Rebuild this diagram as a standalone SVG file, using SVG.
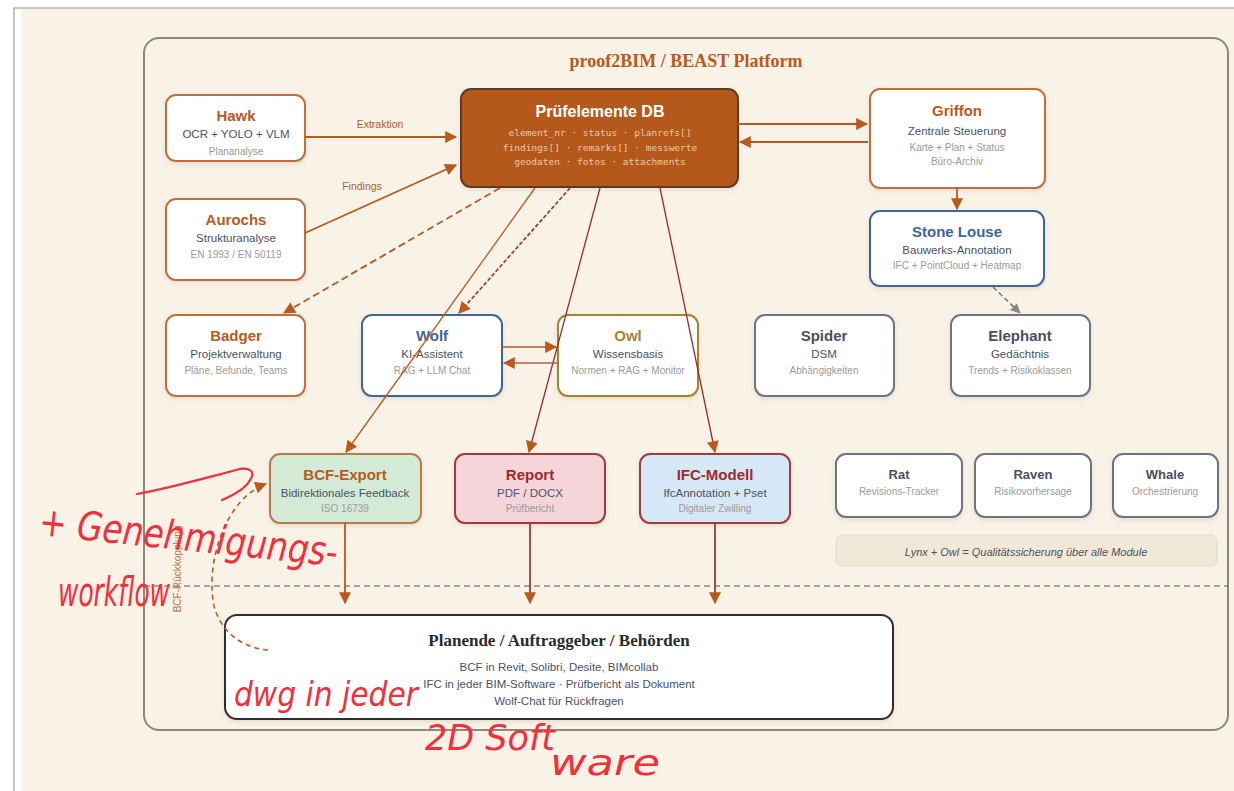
<svg xmlns="http://www.w3.org/2000/svg" width="1234" height="791" viewBox="0 0 1234 791">
<defs>
<style>
.sans{font-family:"Liberation Sans",Arial,sans-serif}
.t{font-family:"Liberation Sans",Arial,sans-serif;font-weight:bold;text-anchor:middle}
.s{font-family:"Liberation Sans",Arial,sans-serif;font-size:11.5px;fill:#4a5263;text-anchor:middle}
.g{font-family:"Liberation Sans",Arial,sans-serif;font-size:10px;fill:#9a9a9a;text-anchor:middle}
.m{font-family:"DejaVu Sans Mono","Liberation Mono",monospace;font-size:9.5px;fill:#f0c8a6;text-anchor:middle}
.box{fill:#fff;stroke-width:2;filter:url(#sh)}
.or{stroke:#c0703a}
.bl{stroke:#3f6598}
.ol{stroke:#a4842f}
.gr{stroke:#6d7482}
.hand{font-family:"DejaVu Sans","Liberation Sans",sans-serif;fill:#f2303c;font-style:italic}
.c{fill:none;stroke-width:1.8}
</style>
<filter id="sh" x="-10%" y="-10%" width="130%" height="140%">
<feDropShadow dx="0" dy="2" stdDeviation="2" flood-color="#7a5a3a" flood-opacity="0.15"/>
</filter>
<marker id="aoL" viewBox="0 0 10 10" refX="9" refY="5" markerWidth="14" markerHeight="12" orient="auto" markerUnits="userSpaceOnUse">
<path d="M0,0 L10,5 L0,10 z" fill="#b85a1e"/>
</marker>
<marker id="ag" viewBox="0 0 10 10" refX="9" refY="5" markerWidth="11" markerHeight="10" orient="auto" markerUnits="userSpaceOnUse">
<path d="M0,0 L10,5 L0,10 z" fill="#8a8a8a"/>
</marker>
</defs>

<rect x="0" y="0" width="1234" height="791" fill="#ffffff"/>
<rect x="14" y="8" width="1230" height="800" fill="none" stroke="#8c8c8c" stroke-width="1"/>
<rect x="21" y="9" width="1220" height="800" rx="4" fill="#f9f2e7"/>

<g id="frame">
<rect x="144" y="38" width="1084" height="692" rx="15" fill="#f9f2e7" stroke="#8e877c" stroke-width="2"/>
<text x="686" y="67" text-anchor="middle" font-family="Liberation Serif,Times New Roman,serif" font-weight="bold" font-size="18" fill="#b85a1e">proof2BIM / BEAST Platform</text>
<line x1="144" y1="586" x2="1228" y2="586" stroke="#555" stroke-width="1" stroke-dasharray="6,4"/>
</g>

<g id="db">
<rect x="461" y="89" width="277" height="98" rx="10" fill="#b5581c" stroke="#5c3b28" stroke-width="2" filter="url(#sh)"/>
<text x="600" y="117" class="t" font-size="16" fill="#fff">Prüfelemente DB</text>
<text x="600" y="136" class="m">element_nr · status · planrefs[]</text>
<text x="600" y="151" class="m">findings[] · remarks[] · messwerte</text>
<text x="600" y="165" class="m">geodaten · fotos · attachments</text>
</g>

<g id="hawk">
<rect class="box or" x="166" y="95" width="139" height="66" rx="10"/>
<text x="236" y="121" class="t" font-size="15" fill="#b85a1e">Hawk</text>
<text x="236" y="138" class="s">OCR + YOLO + VLM</text>
<text x="236" y="155" class="g">Plananalyse</text>
</g>

<g id="aurochs">
<rect class="box or" x="166" y="199" width="139" height="81" rx="10"/>
<text x="236" y="225" class="t" font-size="15" fill="#b85a1e">Aurochs</text>
<text x="236" y="242" class="s">Strukturanalyse</text>
<text x="236" y="258" class="g">EN 1993 / EN 50119</text>
</g>

<g id="griffon">
<rect class="box or" x="870" y="89" width="175" height="99" rx="10"/>
<text x="957" y="116" class="t" font-size="15" fill="#b85a1e">Griffon</text>
<text x="957" y="135" class="s">Zentrale Steuerung</text>
<text x="957" y="151" class="g">Karte + Plan + Status</text>
<text x="957" y="165" class="g">Büro-Archiv</text>
</g>

<g id="stonelouse">
<rect class="box bl" x="870" y="211" width="174" height="75" rx="10"/>
<text x="957" y="237" class="t" font-size="15" fill="#3f6598">Stone Louse</text>
<text x="957" y="254" class="s">Bauwerks-Annotation</text>
<text x="957" y="269" class="g">IFC + PointCloud + Heatmap</text>
</g>

<g id="badger">
<rect class="box or" x="166" y="315" width="139" height="81" rx="10"/>
<text x="236" y="341" class="t" font-size="15" fill="#b85a1e">Badger</text>
<text x="236" y="358" class="s">Projektverwaltung</text>
<text x="236" y="374" class="g">Pläne, Befunde, Teams</text>
</g>

<g id="wolf">
<rect class="box bl" x="362" y="315" width="140" height="81" rx="10"/>
<text x="432" y="341" class="t" font-size="15" fill="#3f6598">Wolf</text>
<text x="432" y="358" class="s">KI-Assistent</text>
<text x="432" y="374" class="g">RAG + LLM Chat</text>
</g>

<g id="owl">
<rect class="box ol" x="558" y="315" width="140" height="81" rx="10"/>
<text x="628" y="341" class="t" font-size="15" fill="#a4842f">Owl</text>
<text x="628" y="358" class="s">Wissensbasis</text>
<text x="628" y="374" class="g">Normen + RAG + Monitor</text>
</g>

<g id="spider">
<rect class="box gr" x="755" y="315" width="139" height="81" rx="10"/>
<text x="824" y="341" class="t" font-size="15" fill="#4a5060">Spider</text>
<text x="824" y="358" class="s">DSM</text>
<text x="824" y="374" class="g">Abhängigkeiten</text>
</g>

<g id="elephant">
<rect class="box gr" x="951" y="315" width="139" height="81" rx="10"/>
<text x="1020" y="341" class="t" font-size="15" fill="#4a5060">Elephant</text>
<text x="1020" y="358" class="s">Gedächtnis</text>
<text x="1020" y="374" class="g">Trends + Risikoklassen</text>
</g>

<g id="bcf">
<rect x="270" y="454" width="151" height="69" rx="10" fill="#d3ead6" stroke="#b87a4a" stroke-width="2" filter="url(#sh)"/>
<text x="345" y="480" class="t" font-size="15" fill="#b85a1e">BCF-Export</text>
<text x="345" y="497" class="s" font-size="11">Bidirektionales Feedback</text>
<text x="345" y="512" class="g" font-size="11">ISO 16739</text>
</g>

<g id="report">
<rect x="455" y="454" width="150" height="69" rx="10" fill="#f6d5da" stroke="#a23a3a" stroke-width="2" filter="url(#sh)"/>
<text x="530" y="480" class="t" font-size="15" fill="#9b2c2c">Report</text>
<text x="530" y="497" class="s" font-size="11">PDF / DOCX</text>
<text x="530" y="512" class="g" font-size="11">Prüfbericht</text>
</g>

<g id="ifc">
<rect x="640" y="454" width="150" height="69" rx="10" fill="#d6e7f5" stroke="#a23a3a" stroke-width="2" filter="url(#sh)"/>
<text x="715" y="480" class="t" font-size="15" fill="#9b2c2c">IFC-Modell</text>
<text x="715" y="497" class="s" font-size="11">IfcAnnotation + Pset</text>
<text x="715" y="512" class="g" font-size="11">Digitaler Zwilling</text>
</g>

<g id="rat">
<rect class="box gr" x="836" y="454" width="126" height="63" rx="10"/>
<text x="899" y="479" class="t" font-size="13" fill="#4a5060">Rat</text>
<text x="899" y="495" class="g" font-size="10.5">Revisions-Tracker</text>
</g>

<g id="raven">
<rect class="box gr" x="975" y="454" width="116" height="63" rx="10"/>
<text x="1033" y="479" class="t" font-size="13" fill="#4a5060">Raven</text>
<text x="1033" y="495" class="g" font-size="10.5">Risikovorhersage</text>
</g>

<g id="whale">
<rect class="box gr" x="1113" y="454" width="105" height="63" rx="10"/>
<text x="1165" y="479" class="t" font-size="13" fill="#4a5060">Whale</text>
<text x="1165" y="495" class="g" font-size="10.5">Orchestrierung</text>
</g>

<g id="note">
<rect x="836" y="535" width="381" height="31" rx="6" fill="#f2e8d8" stroke="#e6dac6" stroke-width="1"/>
<text x="1026" y="556" text-anchor="middle" class="sans" font-size="11" font-style="italic" fill="#4a5263">Lynx + Owl = Qualitätssicherung über alle Module</text>
</g>

<g id="planende">
<rect x="225" y="615" width="668" height="104" rx="12" fill="#fff" stroke="#2e2e2e" stroke-width="2" filter="url(#sh)"/>
<text x="559" y="646" text-anchor="middle" font-family="Liberation Serif,Times New Roman,serif" font-weight="bold" font-size="17" fill="#2a2a2a">Planende / Auftraggeber / Behörden</text>
<text x="559" y="671" class="s">BCF in Revit, Solibri, Desite, BIMcollab</text>
<text x="559" y="688" class="s">IFC in jeder BIM-Software · Prüfbericht als Dokument</text>
<text x="559" y="705" class="s">Wolf-Chat für Rückfragen</text>
</g>

<g id="connectors">
<line class="c" x1="305" y1="137" x2="456" y2="137" stroke="#b85a1e" marker-end="url(#aoL)"/>
<text x="380" y="128" text-anchor="middle" class="sans" font-size="10.5" fill="#b85a1e">Extraktion</text>
<line class="c" x1="305" y1="233" x2="456" y2="165" stroke="#b85a1e" marker-end="url(#aoL)"/>
<text x="362" y="190" text-anchor="middle" class="sans" font-size="10.5" fill="#b85a1e">Findings</text>
<line class="c" x1="500" y1="188" x2="284" y2="313" stroke="#b85a1e" stroke-dasharray="7,4" marker-end="url(#aoL)"/>
<line x1="535" y1="188" x2="346" y2="452" stroke="#b85a1e" stroke-width="1.3" fill="none" marker-end="url(#aoL)"/>
<line x1="570" y1="188" x2="459" y2="313" stroke="#9b2c2c" stroke-width="1.6" stroke-dasharray="4,2" fill="none" marker-end="url(#aoL)"/>
<line x1="600" y1="188" x2="529" y2="452" stroke="#9b2c2c" stroke-width="1.3" fill="none" marker-end="url(#aoL)"/>
<line x1="660" y1="188" x2="715" y2="452" stroke="#9b2c2c" stroke-width="1.3" fill="none" marker-end="url(#aoL)"/>
<line class="c" x1="738" y1="124" x2="867" y2="124" stroke="#b85a1e" marker-end="url(#aoL)"/>
<line class="c" x1="868" y1="142" x2="740" y2="142" stroke="#b85a1e" marker-end="url(#aoL)"/>
<line class="c" x1="957" y1="188" x2="957" y2="209" stroke="#b85a1e" marker-end="url(#aoL)"/>
<line x1="993" y1="287" x2="1020" y2="313" stroke="#777" stroke-width="1.5" stroke-dasharray="5,3" fill="none" marker-end="url(#ag)"/>
<line x1="502" y1="347" x2="556" y2="347" stroke="#b85a1e" stroke-width="1.6" marker-end="url(#aoL)"/>
<line x1="558" y1="363" x2="504" y2="363" stroke="#b85a5a" stroke-width="1.6" marker-end="url(#aoL)"/>
<line class="c" x1="345" y1="523" x2="345" y2="603" stroke="#b85a1e" marker-end="url(#aoL)"/>
<line class="c" x1="530" y1="523" x2="530" y2="603" stroke="#a23a3a" marker-end="url(#aoL)"/>
<line class="c" x1="715" y1="523" x2="715" y2="603" stroke="#a23a3a" marker-end="url(#aoL)"/>
<path d="M268,650 C242,648 221,632 214,606 C205,562 226,498 266,484" fill="none" stroke="#b85a1e" stroke-width="1.6" stroke-dasharray="5,4" marker-end="url(#aoL)"/>
<text transform="translate(181,569) rotate(-90)" text-anchor="middle" class="sans" font-size="10" fill="#c0703a">BCF-Rückkopplung</text>
</g>

<g id="annotations">
<path d="M137,494 C170,488 205,478 236,470 C250,466 256,472 250,480 C246,488 236,494 222,500" fill="none" stroke="#f2303c" stroke-width="2.2" stroke-linecap="round"/>
<text x="38" y="535" transform="rotate(6 38 535)" class="hand" font-size="40" textLength="300" lengthAdjust="spacingAndGlyphs">+ Genehmigungs-</text>
<text x="58" y="606" class="hand" font-size="40" textLength="112" lengthAdjust="spacingAndGlyphs">workflow</text>
<text x="234" y="706" class="hand" font-size="34" textLength="184" lengthAdjust="spacingAndGlyphs">dwg in jeder</text>
<text x="425" y="750" class="hand" font-size="36" textLength="130" lengthAdjust="spacingAndGlyphs">2D Soft</text>
<text x="550" y="775" class="hand" font-size="36" textLength="110" lengthAdjust="spacingAndGlyphs">ware</text>
</g>
</svg>
